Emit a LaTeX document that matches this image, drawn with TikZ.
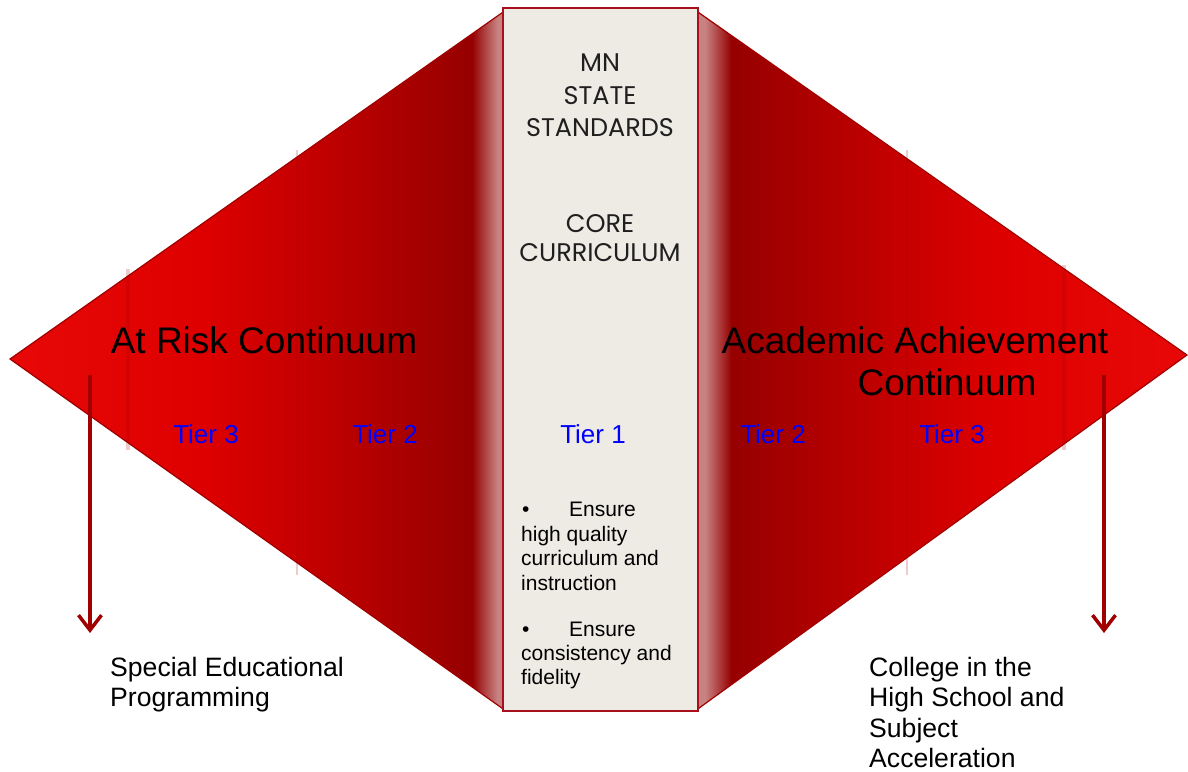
\documentclass[tikz,border=0pt]{standalone}
\usepackage{fontspec}
\setmainfont{Liberation Sans}
\newfontfamily\gothicfont{Poppins}
\usetikzlibrary{arrows.meta}
\definecolor{tipred}{HTML}{E80808}
\definecolor{brightred}{HTML}{DE0000}
\definecolor{midred}{HTML}{C60000}
\definecolor{deepred}{HTML}{AA0000}
\definecolor{darkred}{HTML}{960000}
\definecolor{palered}{HTML}{C88282}
\definecolor{edgered}{HTML}{A00000}
\definecolor{rimred}{HTML}{A8101E}
\definecolor{panelgray}{HTML}{EEEBE5}
\definecolor{tierblue}{HTML}{0000FF}
\tikzset{
  edge/.style={draw=edgered, line width=1.2pt, line join=miter},
  panel/.style={fill=panelgray, draw=rimred, line width=2.6pt},
  faint/.style={draw=edgered, draw opacity=0.2},
  downarrow/.style={draw=edgered, line width=3.5pt, -{Straight Barb[length=15pt,width=23pt]}},
  gothic/.style={font=\gothicfont\fontsize{25.5}{30}\selectfont, text=black!88, inner sep=0pt, anchor=base},
  bigtext/.style={font=\fontsize{37}{44}\selectfont, inner sep=0pt, anchor=base},
  tier/.style={font=\fontsize{26}{30}\selectfont, text=tierblue, inner sep=0pt, anchor=base},
  bottomtext/.style={font=\fontsize{26.6}{30}\selectfont, inner sep=0pt, anchor=base west},
  bullettext/.style={font=\fontsize{21}{24}\selectfont, inner sep=0pt, anchor=base west}
}
\begin{document}
\begin{tikzpicture}[x=1pt,y=-1pt]
\useasboundingbox (0,0) rectangle (1188,771);
% left triangle
\coordinate (ltip) at (10,359);
\coordinate (ltop) at (506,10);
\coordinate (lbot) at (506,711);
\begin{scope}
  \clip (ltip) -- (ltop) -- (lbot) -- cycle;
  \shade[left color=tipred, right color=brightred] (0,0) rectangle (200.5,771);
  \shade[left color=brightred, right color=midred] (200,0) rectangle (300.5,771);
  \shade[left color=midred, right color=deepred] (300,0) rectangle (400.5,771);
  \shade[left color=deepred, right color=darkred] (400,0) rectangle (472.5,771);
  \shade[left color=darkred, right color=palered] (472,0) rectangle (497.5,771);
  \fill[palered] (497,0) rectangle (507,771);
\end{scope}
\draw[edge] (ltop) -- (ltip) -- (lbot);
% right triangle
\coordinate (rtip) at (1187,355);
\coordinate (rtop) at (695,10);
\coordinate (rbot) at (695,711);
\begin{scope}
  \clip (rtip) -- (rtop) -- (rbot) -- cycle;
  \fill[palered] (690,0) rectangle (705.5,771);
  \shade[left color=palered, right color=darkred] (705,0) rectangle (731.5,771);
  \shade[left color=darkred, right color=deepred] (731,0) rectangle (800.5,771);
  \shade[left color=deepred, right color=midred] (800,0) rectangle (900.5,771);
  \shade[left color=midred, right color=brightred] (900,0) rectangle (1000.5,771);
  \shade[left color=brightred, right color=tipred] (1000,0) rectangle (1190,771);
\end{scope}
\draw[edge] (rtop) -- (rtip) -- (rbot);
% faint separators
\coordinate (f1a) at (128,269); \coordinate (f1b) at (128,450);
\coordinate (f2a) at (297,150); \coordinate (f2b) at (297,575);
\coordinate (f3a) at (907,150); \coordinate (f3b) at (907,575);
\coordinate (f4a) at (1064,265); \coordinate (f4b) at (1064,450);
\draw[faint, line width=4pt] (f1a) -- (f1b);
\draw[faint, line width=2pt] (f2a) -- (f2b);
\draw[faint, line width=2pt] (f3a) -- (f3b);
\draw[faint, line width=4pt] (f4a) -- (f4b);
% central panel
\node[panel, minimum width=195pt, minimum height=703pt, inner sep=0pt] (core) at (600.5,359.5) {};
% panel headings
\node[gothic] (mn) at (600,71) {MN};
\node[gothic] (state) at (600,104) {STATE};
\node[gothic] (standards) at (600,136) {STANDARDS};
\node[gothic] (corehead) at (600,232) {CORE};
\node[gothic] (curric) at (600,261) {CURRICULUM};
% big labels
\node[bigtext] (atrisk) at (264,353) {At Risk Continuum};
\node[bigtext] (acad) at (915,353) {Academic Achievement};
\node[bigtext] (cont) at (947,395) {Continuum};
% tiers
\node[tier] (t3l) at (206,443) {Tier 3};
\node[tier] (t2l) at (385,443) {Tier 2};
\node[tier] (t1) at (593,443) {Tier 1};
\node[tier] (t2r) at (773,443) {Tier 2};
\node[tier] (t3r) at (952,443) {Tier 3};
% bullets
\node[bullettext] (b1a) at (521,516) {\makebox[48pt][l]{\hspace{1pt}•}Ensure};
\node[bullettext] (b1b) at (521,541) {high quality};
\node[bullettext] (b1c) at (521,565) {curriculum and};
\node[bullettext] (b1d) at (521,590) {instruction};
\node[bullettext] (b2a) at (521,636) {\makebox[48pt][l]{\hspace{1pt}•}Ensure};
\node[bullettext] (b2b) at (521,660) {consistency and};
\node[bullettext] (b2c) at (521,684) {fidelity};
% arrows
\coordinate (la0) at (90,375); \coordinate (la1) at (90,633);
\coordinate (ra0) at (1104,375); \coordinate (ra1) at (1104,633);
\draw[downarrow] (la0) -- (la1);
\draw[downarrow] (ra0) -- (ra1);
% bottom texts
\node[bottomtext] (sp1) at (110,676) {Special Educational};
\node[bottomtext] (sp2) at (110,706) {Programming};
\node[bottomtext] (co1) at (869,676) {College in the};
\node[bottomtext] (co2) at (869,706) {High School and};
\node[bottomtext] (co3) at (869,737) {Subject};
\node[bottomtext] (co4) at (869,767) {Acceleration};
\end{tikzpicture}
\end{document}
